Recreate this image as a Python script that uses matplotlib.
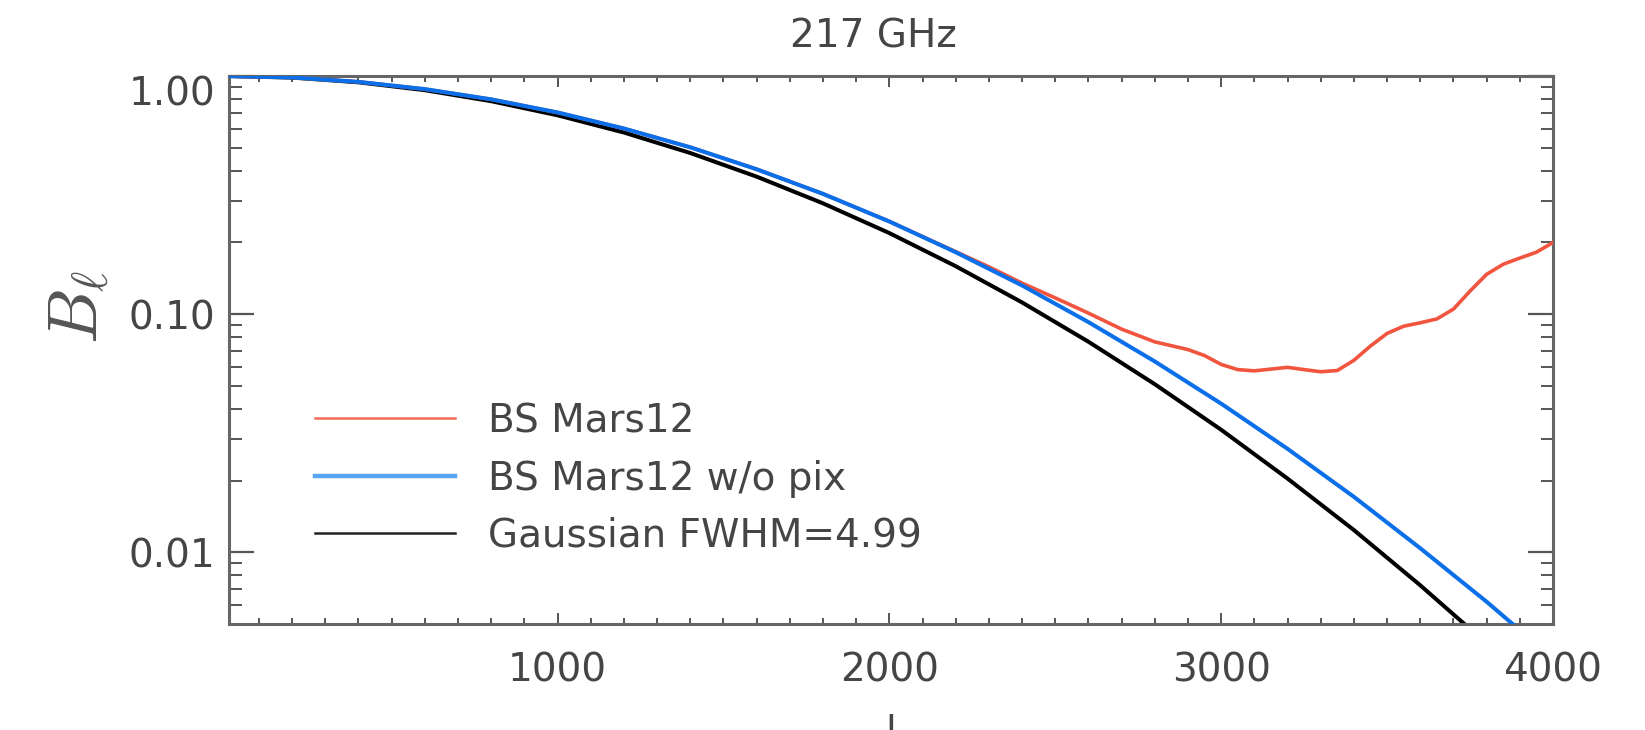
import matplotlib
matplotlib.use("Agg")
import matplotlib.pyplot as plt
from matplotlib.ticker import FixedLocator, MultipleLocator, LogLocator, NullFormatter
from matplotlib.lines import Line2D

# beam window functions
ell = [0, 200, 400, 600, 800, 1000, 1200, 1400, 1600, 1800, 2000,
       2200, 2400, 2600, 2800, 3000, 3200, 3400, 3600, 3800, 4000]
gauss = [1.0, 0.985, 0.941, 0.872, 0.784, 0.684, 0.579, 0.475, 0.378, 0.292, 0.219,
         0.159, 0.112, 0.0766, 0.0508, 0.0327, 0.0204, 0.0124, 0.00727, 0.00414, 0.00229]
nopix = [1.0, 0.986, 0.945, 0.881, 0.798, 0.703, 0.602, 0.502, 0.406, 0.320, 0.245,
         0.182, 0.132, 0.0926, 0.0633, 0.0421, 0.0272, 0.0171, 0.0104, 0.0062, 0.00358]

ell_mars = [0, 200, 400, 600, 800, 1000, 1200, 1400, 1600, 1800, 2000, 2200,
            2300, 2400, 2500, 2600, 2700, 2800, 2900, 2950, 3000, 3050, 3100,
            3200, 3250, 3300, 3350, 3400, 3450, 3500, 3550, 3600, 3650, 3700,
            3750, 3800, 3850, 3900, 3950, 4000]
mars = [1.0, 0.986, 0.945, 0.881, 0.798, 0.703, 0.602, 0.502, 0.406, 0.320, 0.245, 0.183,
        0.158, 0.135, 0.117, 0.101, 0.0865, 0.0765, 0.0710, 0.0670, 0.0615, 0.0585, 0.0578,
        0.0598, 0.0585, 0.0573, 0.0580, 0.0640, 0.0735, 0.0830, 0.0890, 0.0920, 0.0955, 0.1050,
        0.1250, 0.1470, 0.1620, 0.1720, 0.1820, 0.2000]

labels = ["BS Mars12", "BS Mars12 w/o pix", "Gaussian FWHM=4.99"]
xticks = [1000, 2000, 3000, 4000]
yticks = [0.01, 0.1, 1.0]
yticklabels = ["0.01", "0.10", "1.00"]

red = "#f2553f"
blue = "#0a6fe8"
grey = "#555555"
txt = "#454545"

plt.rcParams['font.family'] = ['DejaVu Sans']
plt.rcParams['mathtext.fontset'] = 'cm'

fig = plt.figure(figsize=(16.45, 7.30), dpi=100)
ax = fig.add_axes([229/1645, 106/730, 1324/1645, 548/730])

ax.plot(ell_mars, mars, color=red, lw=2.6, zorder=3)
ax.plot(ell, gauss, color="black", lw=2.9, zorder=2)
ax.plot(ell, nopix, color=blue, lw=2.9, zorder=4)

ax.set_yscale("log")
ax.set_xlim(10, 4000)
ax.set_ylim(0.005, 1.0)

ax.xaxis.set_major_locator(FixedLocator(xticks))
ax.xaxis.set_minor_locator(MultipleLocator(100))
ax.set_xticklabels([str(v) for v in xticks])
ax.yaxis.set_major_locator(FixedLocator(yticks))
ax.yaxis.set_minor_locator(LogLocator(base=10, subs=[2, 3, 4, 5, 6, 7, 8, 9], numticks=20))
ax.yaxis.set_minor_formatter(NullFormatter())
ax.set_yticklabels(yticklabels)
ax.get_yticklabels()[-1].set_va("top")

ax.tick_params(axis="both", which="both", direction="in", top=True, right=True,
               colors=grey, labelcolor=txt, labelsize=28)
ax.tick_params(axis="x", which="major", length=8, width=1.4, pad=20)
ax.tick_params(axis="x", which="minor", length=4, width=1.4)
ax.tick_params(axis="y", which="major", length=18, width=1.6, pad=10)
ax.tick_params(axis="y", which="minor", length=9, width=1.4)
for s in ax.spines.values():
    s.set_color("#666666")
    s.set_linewidth(2.2)

ax.set_ylabel(r"$B_\ell$", fontsize=50, color=grey)
ax.yaxis.set_label_coords(-0.089, 0.578)
ax.set_xlabel("l", fontsize=28, color=txt, va="top")
ax.xaxis.set_label_coords(0.5, -0.165)

fig.text(873/1645, 1 - 37/730, "217 GHz", ha="center", va="center", fontsize=28, color=txt)

handles = [Line2D([], [], color="#f36a58", lw=1.8),
           Line2D([], [], color="#5aa5f2", lw=3.2),
           Line2D([], [], color="#222222", lw=1.8)]
leg = ax.legend(handles, labels, loc="upper left", bbox_to_anchor=(0.065, 0.405),
                frameon=False, fontsize=28, handlelength=3.6, handletextpad=0.85,
                labelspacing=0.5, borderpad=0, borderaxespad=0)
for t in leg.get_texts():
    t.set_color(txt)

fig.savefig("out.png", dpi=100)
